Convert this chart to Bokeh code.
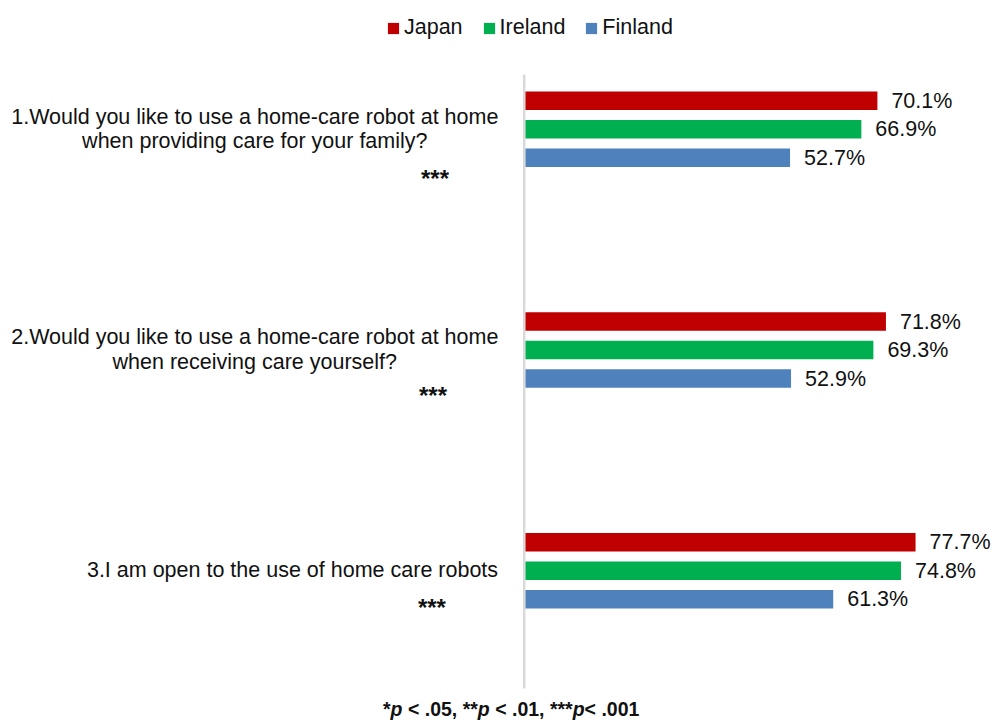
from bokeh.plotting import figure
from bokeh.models import ColumnDataSource, Range1d, Label, Legend, LegendItem
from bokeh.core.properties import value
from bokeh.embed import file_html
from bokeh.resources import INLINE

# ---------------- data ----------------
question_line1 = [
    "1.Would you like to use a home-care robot at home",
    "2.Would you like to use a home-care robot at home",
    "3.I am open to the use of home care robots",
]
question_line2 = [
    "when providing care for your family?",
    "when receiving care yourself?",
    "",
]
significance = ["***", "***", "***"]
series_names = ["Japan", "Ireland", "Finland"]
japan = [70.1, 71.8, 77.7]
ireland = [66.9, 69.3, 74.8]
finland = [52.7, 52.9, 61.3]
footnote_parts = ["*", "p", " < .05, **", "p", " < .01, ***", "p", "< .001"]
footnote_italic = [False, True, False, True, False, True, False]

# ---------------- styles / layout ----------------
colors = ["#C00000", "#00B050", "#4F81BD"]
FONT = "Liberation Sans"
TXT = "#111111"
W, H = 994, 722
X0_PX, PX_PER_PCT = 525.0, 5.02          # zero line position / px per percent
Y0_PX, PX_PER_CAT = 128.8, 220.7         # first category centre / px per category
x_start = -X0_PX / PX_PER_PCT
x_end = x_start + W / PX_PER_PCT
y_top = -Y0_PX / PX_PER_CAT
y_bottom = y_top + H / PX_PER_CAT

def py(px):  # pixel offset -> data units along y
    return px / PX_PER_CAT

p = figure(width=W, height=H, x_range=Range1d(x_start, x_end),
           y_range=Range1d(y_bottom, y_top), output_backend="svg",
           toolbar_location=None, x_axis_location=None, y_axis_location=None,
           min_border=0, background_fill_color="white", border_fill_color="white")
p.grid.visible = False
p.outline_line_color = None

# vertical category axis line
p.segment(x0=[-0.26], x1=[-0.26], y0=[y_top + py(74)], y1=[y_top + py(688)],
          line_color="#D9D9D9", line_width=2.5)

renderers = []
for k, (name, vals, col) in enumerate(zip(series_names, [japan, ireland, finland], colors)):
    off = py((k - 1) * 28.5)
    src = ColumnDataSource(dict(
        y=[i + off for i in range(len(vals))],
        right=vals,
        label=[f"{v:.1f}%" for v in vals],
    ))
    r = p.hbar(y="y", left=0, right="right", height=py(18.5), source=src,
               fill_color=col, line_color=None)
    renderers.append(r)
    p.text(x="right", y="y", text="label", source=src, x_offset=14,
           text_align="left", text_baseline="middle",
           text_font=value(FONT), text_font_size="21.5px", text_color=TXT)

# question labels
line1_dy = [-12.5, -13.2, -0.5]
line2_dy = [11.7, 11.8, 0]
centers_x = [254.3, 254.3, 292.0]
stars_x = [434.5, 432.5, 431.4]
stars_dy = [49.0, 45.0, 37.0]
for i in range(3):
    p.add_layout(Label(x=centers_x[i], y=i + py(line1_dy[i]), x_units="screen", y_units="data",
                       text=question_line1[i], text_align="center", text_baseline="alphabetic",
                       text_font=FONT, text_font_size="21.5px", text_color=TXT))
    if question_line2[i]:
        p.add_layout(Label(x=centers_x[i], y=i + py(line2_dy[i]), x_units="screen", y_units="data",
                           text=question_line2[i], text_align="center", text_baseline="alphabetic",
                           text_font=FONT, text_font_size="21.5px", text_color=TXT))
    p.add_layout(Label(x=stars_x[i], y=i + py(stars_dy[i]), x_units="screen", y_units="data",
                       text=significance[i], text_align="center", text_baseline="alphabetic",
                       text_font=FONT, text_font_size="24px", text_font_style="bold",
                       text_color=TXT))

# footnote with italic p (Arial bold advance widths, per 1000 em)
adv = {"*": 389, "p": 611, " ": 278, "<": 584, ".": 278, ",": 278,
       "0": 556, "1": 556, "5": 556}
FN_SIZE = 19.5
fx = 382.5
for part, it in zip(footnote_parts, footnote_italic):
    lead = len(part) - len(part.lstrip(" "))
    fx += lead * adv[" "] * FN_SIZE / 1000.0
    txt = part.lstrip(" ")
    p.add_layout(Label(x=fx, y=y_bottom - py(14), x_units="screen", y_units="data",
                       text=txt, text_align="left", text_baseline="alphabetic",
                       text_font=FONT, text_font_size=f"{FN_SIZE}px",
                       text_font_style="bold italic" if it else "bold", text_color=TXT))
    fx += sum(adv[c] for c in txt) * FN_SIZE / 1000.0

legend = Legend(items=[LegendItem(label=n, renderers=[r]) for n, r in zip(series_names, renderers)],
                orientation="horizontal", location=(386, 682),
                glyph_width=14, glyph_height=14, label_standoff=4, spacing=19,
                padding=0, margin=0, border_line_color=None, background_fill_alpha=0,
                label_text_font=FONT, label_text_font_size="21.5px", label_text_color=TXT)
p.add_layout(legend)

open("out.html", "w").write(file_html(p, INLINE))
